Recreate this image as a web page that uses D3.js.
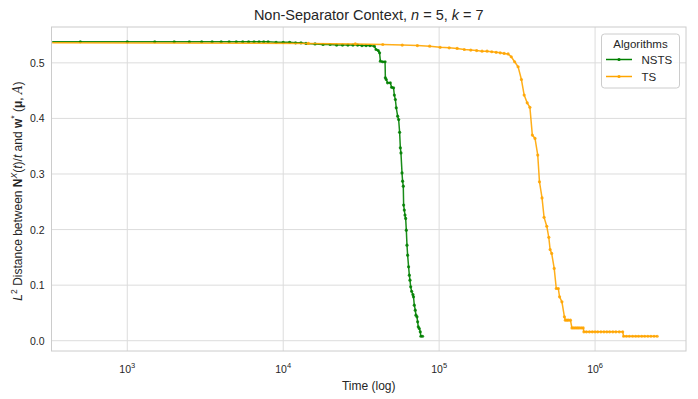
<!DOCTYPE html>
<html>
<head>
<meta charset="utf-8">
<script src="https://cdn.jsdelivr.net/npm/d3@7"></script>
<style>
  body { margin: 0; background: #fff; }
  svg { display: block; font-family: "Liberation Sans", Arial, sans-serif; }
</style>
</head>
<body>
<div id="chart"></div>
<script>
// Series
const nstsTime = [330, 500, 1000, 1500, 2000, 2500, 3000, 3500, 4000, 4500, 5000, 5500, 6000, 6500, 7000, 7500, 8000,
  9000, 10000, 11000, 12000, 13000, 14000, 16000, 18000, 20000, 22000, 24000, 26000, 28000, 30000, 32000, 34000, 36000,
  38400, 39400, 40700, 41500, 42000, 43400, 45000, 45200, 45800, 46700, 48600, 49600, 51000, 51600, 52400, 53100,
  54200, 55000, 55800, 56400, 56900, 57800, 58300, 58900, 59200, 59800, 60400, 61000, 61600, 62200, 62800, 63700,
  64400, 65000, 65700, 66600, 67900, 68500, 69300, 70300, 71000, 72100, 72800, 73500, 74600, 75700, 76400, 78300];
const nstsValue = [0.538, 0.538, 0.538, 0.538, 0.538, 0.538, 0.538, 0.538, 0.538, 0.538, 0.538, 0.538, 0.538, 0.538, 0.538, 0.538, 0.538,
  0.537, 0.537, 0.537, 0.536, 0.536, 0.535, 0.534, 0.533, 0.533, 0.532, 0.532, 0.532, 0.532, 0.532, 0.531, 0.531, 0.531,
  0.530, 0.524, 0.522, 0.518, 0.503, 0.502, 0.502, 0.473, 0.470, 0.464, 0.464, 0.456, 0.455, 0.442, 0.434, 0.419,
  0.404, 0.398, 0.375, 0.347, 0.338, 0.302, 0.287, 0.278, 0.244, 0.235, 0.226, 0.220, 0.199, 0.172, 0.154, 0.133,
  0.118, 0.109, 0.097, 0.089, 0.083, 0.079, 0.064, 0.055, 0.046, 0.043, 0.034, 0.025, 0.022, 0.016, 0.008, 0.008];

const tsTime = [330, 14500, 29000, 43500, 58000, 72500, 87000, 101500, 116000, 130500, 145000, 159500, 174000,
  188500, 203000, 217500, 232000, 246500, 261000, 277000, 290000, 305000, 321000, 337000, 351000, 367000, 382000,
  396000, 412000, 429000, 440000, 457000, 471000, 490000, 505000, 515000, 527000, 547000, 564000, 581000, 592000,
  613000, 636000, 645000, 660000, 675000, 695000, 711000, 730000, 750000, 770000, 790000, 815000, 839000, 848000,
  880000, 920000, 960000, 1000000, 1040000, 1090000, 1140000, 1190000, 1240000, 1300000, 1360000, 1430000, 1503000,
  1525000, 1590000, 1660000, 1740000, 1820000, 1900000, 1990000, 2080000, 2180000, 2280000, 2390000, 2500000];
const tsValue = [0.536, 0.535, 0.534, 0.533, 0.532, 0.531, 0.530, 0.528, 0.527, 0.526, 0.524, 0.523, 0.522,
  0.521, 0.521, 0.520, 0.519, 0.518, 0.517, 0.516, 0.511, 0.502, 0.493, 0.470, 0.442, 0.428, 0.420,
  0.370, 0.364, 0.334, 0.286, 0.257, 0.222, 0.206, 0.186, 0.164, 0.157, 0.130, 0.094, 0.094, 0.079,
  0.070, 0.043, 0.037, 0.037, 0.037, 0.037, 0.023, 0.023, 0.023, 0.023, 0.023, 0.023, 0.023, 0.016,
  0.016, 0.016, 0.016, 0.016, 0.016, 0.016, 0.016, 0.016, 0.016, 0.016, 0.016, 0.016, 0.016,
  0.008, 0.008, 0.008, 0.008, 0.008, 0.008, 0.008, 0.008, 0.008, 0.008, 0.008, 0.008];

const yTicks = [0.0, 0.1, 0.2, 0.3, 0.4, 0.5];
const xTicks = [1e3, 1e4, 1e5, 1e6];

const series = [
  { name: 'NSTS', color: 'green', time: nstsTime, value: nstsValue },
  { name: 'TS', color: 'orange', time: tsTime, value: tsValue }
];

const width = 698, height = 399;
const margin = { top: 27, right: 12, bottom: 48, left: 51.5 };

const svg = d3.select('#chart').append('svg')
  .attr('width', width)
  .attr('height', height);

const x = d3.scaleLog()
  .domain([326.6, 3.83e6])
  .range([margin.left, width - margin.right]);

const y = d3.scaleLinear()
  .domain([-0.0185, 0.5645])
  .range([height - margin.bottom, margin.top]);

const textColor = '#262626';
const gridColor = '#dcdcdc';

svg.append('defs').append('clipPath').attr('id', 'clip')
  .append('rect')
  .attr('x', margin.left).attr('y', margin.top)
  .attr('width', width - margin.right - margin.left)
  .attr('height', height - margin.bottom - margin.top);

// grid
svg.append('g').selectAll('line.gx')
  .data(xTicks).enter().append('line')
  .attr('x1', d => x(d)).attr('x2', d => x(d))
  .attr('y1', margin.top).attr('y2', height - margin.bottom)
  .attr('stroke', gridColor).attr('stroke-width', 1);

svg.append('g').selectAll('line.gy')
  .data(yTicks).enter().append('line')
  .attr('x1', margin.left).attr('x2', width - margin.right)
  .attr('y1', d => y(d)).attr('y2', d => y(d))
  .attr('stroke', gridColor).attr('stroke-width', 1);

// frame
svg.append('rect')
  .attr('x', margin.left).attr('y', margin.top)
  .attr('width', width - margin.right - margin.left)
  .attr('height', height - margin.bottom - margin.top)
  .attr('fill', 'none').attr('stroke', '#cccccc').attr('stroke-width', 1);

// y tick labels
svg.append('g').selectAll('text')
  .data(yTicks).enter().append('text')
  .attr('x', margin.left - 7)
  .attr('y', d => y(d) + 4)
  .attr('text-anchor', 'end')
  .attr('font-size', 10.5)
  .attr('fill', textColor)
  .text(d => d.toFixed(1));

// x tick labels 10^n
const xl = svg.append('g').selectAll('text')
  .data(xTicks).enter().append('text')
  .attr('x', d => x(d))
  .attr('y', height - margin.bottom + 22)
  .attr('text-anchor', 'middle')
  .attr('font-size', 10.5)
  .attr('fill', textColor);
xl.append('tspan').text('10');
xl.append('tspan').attr('dy', -5).attr('font-size', 7.5).text(d => Math.round(Math.log10(d)));

// curves
const plot = svg.append('g').attr('clip-path', 'url(#clip)');
series.forEach(s => {
  const pts = s.time.map((t, i) => [t, s.value[i]]);
  const line = d3.line().x(d => x(d[0])).y(d => y(d[1]));
  plot.append('path')
    .datum(pts)
    .attr('d', line)
    .attr('fill', 'none')
    .attr('stroke', s.color)
    .attr('stroke-width', 1.5)
    .attr('stroke-opacity', 0.9);
  plot.append('g').selectAll('circle')
    .data(pts.slice(1)).enter().append('circle')
    .attr('cx', d => x(d[0]))
    .attr('cy', d => y(d[1]))
    .attr('r', 1.6)
    .attr('fill', s.color)
    .attr('fill-opacity', 0.85);
});

// title
const title = svg.append('text')
  .attr('x', (margin.left + width - margin.right) / 2)
  .attr('y', 20)
  .attr('text-anchor', 'middle')
  .attr('font-size', 14.5)
  .attr('fill', textColor);
title.append('tspan').text('Non-Separator Context, ');
title.append('tspan').attr('font-style', 'italic').text('n');
title.append('tspan').text(' = 5, ');
title.append('tspan').attr('font-style', 'italic').text('k');
title.append('tspan').text(' = 7');

// x label
svg.append('text')
  .attr('x', (margin.left + width - margin.right) / 2)
  .attr('y', height - margin.bottom + 39)
  .attr('text-anchor', 'middle')
  .attr('font-size', 12)
  .attr('fill', textColor)
  .text('Time (log)');

// y label
const yl = svg.append('text')
  .attr('transform', `translate(22, ${(margin.top + height - margin.bottom) / 2 + 2}) rotate(-90)`)
  .attr('text-anchor', 'middle')
  .attr('font-size', 12)
  .attr('fill', textColor);
yl.append('tspan').attr('font-style', 'italic').text('L');
yl.append('tspan').attr('dy', -5).attr('font-size', 8.5).text('2');
yl.append('tspan').attr('dy', 5).text(' Distance between ');
yl.append('tspan').attr('font-weight', 'bold').text('N');
yl.append('tspan').attr('dy', -5).attr('font-size', 8.5).attr('font-style', 'italic').text('X');
yl.append('tspan').attr('dy', 5).text('(');
yl.append('tspan').attr('font-style', 'italic').text('t');
yl.append('tspan').text(')/');
yl.append('tspan').attr('font-style', 'italic').text('t');
yl.append('tspan').text(' and ');
yl.append('tspan').attr('font-weight', 'bold').text('w');
yl.append('tspan').attr('dy', -5).attr('font-size', 8.5).text('*');
yl.append('tspan').attr('dy', 5).text(' (');
yl.append('tspan').attr('font-weight', 'bold').text('μ');
yl.append('tspan').text(', ');
yl.append('tspan').attr('font-style', 'italic').attr('font-family', '"DejaVu Serif", serif').text('A');
yl.append('tspan').text(')');

// legend
const lg = svg.append('g').attr('transform', 'translate(601.5, 34)');
lg.append('rect')
  .attr('width', 78).attr('height', 54)
  .attr('rx', 3)
  .attr('fill', 'white').attr('fill-opacity', 0.85)
  .attr('stroke', '#cccccc').attr('stroke-width', 1);
lg.append('text')
  .attr('x', 39).attr('y', 14)
  .attr('text-anchor', 'middle')
  .attr('font-size', 11.5)
  .attr('fill', textColor)
  .text('Algorithms');
series.forEach((s, i) => {
  const yy = 25.5 + i * 17;
  lg.append('line')
    .attr('x1', 4.5).attr('x2', 30.5)
    .attr('y1', yy).attr('y2', yy)
    .attr('stroke', s.color).attr('stroke-width', 1.5);
  lg.append('circle')
    .attr('cx', 17.5).attr('cy', yy).attr('r', 1.6)
    .attr('fill', s.color);
  lg.append('text')
    .attr('x', 40).attr('y', yy + 4)
    .attr('font-size', 11.5)
    .attr('fill', textColor)
    .text(s.name);
});
</script>
</body>
</html>
